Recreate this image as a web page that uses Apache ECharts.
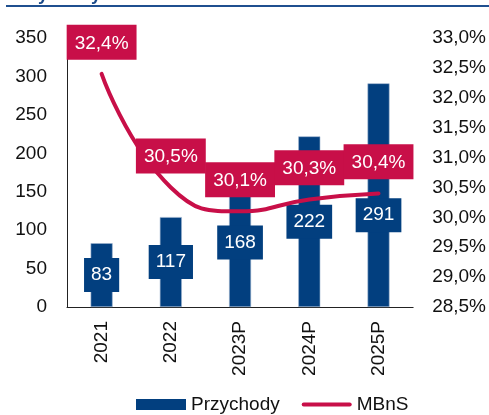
<!DOCTYPE html>
<html>
<head>
    <meta charset="UTF-8">
    <title>Przychody i MBnS</title>
    <style>
        html, body { margin: 0; padding: 0; background: #fff; }
        #chart { width: 489px; height: 415px; }
    </style>
    <script src="https://cdn.jsdelivr.net/npm/echarts@6/dist/echarts.min.js"></script>
</head>
<body>
<div id="chart"></div>
<script type="text/javascript">
    // dane
    var years = ['2021', '2022', '2023P', '2024P', '2025P'];
    var przychody = [83, 117, 168, 222, 291];
    var mbns = [32.4, 30.5, 30.1, 30.3, 30.4];

    var blue = '#023f7f';
    var red = '#c80f48';
    var font = 'Liberation Sans, Arial, sans-serif';

    function pct(v) {
        return v.toFixed(1).replace('.', ',') + '%';
    }

    var barData = przychody.map(function (v, i) {
        var item = { value: v };
        // ostatnia etykieta przesunięta w dół, żeby nie nachodziła na linię
        if (i === przychody.length - 1) {
            item.label = { offset: [0, 20] };
        }
        return item;
    });

    var chart = echarts.init(document.getElementById('chart'));

    var option = {
        animation: false,
        textStyle: { fontFamily: font },
        graphic: [
            {
                type: 'text',
                left: 10,
                top: -14,
                style: {
                    text: 'Przychody i MBnS',
                    font: 'bold 18px ' + font,
                    fill: '#1a4a8a'
                }
            },
            {
                type: 'rect',
                shape: { x: 6, y: 5, width: 483, height: 2 },
                style: { fill: '#1f4f8f' }
            }
        ],
        legend: {
            bottom: -4,
            left: 131,
            itemWidth: 50,
            itemHeight: 11,
            itemGap: 22,
            itemStyle: { borderWidth: 0 },
            textStyle: { fontSize: 19, color: '#111', fontFamily: font },
            data: [
                { name: 'Przychody', icon: 'rect' },
                { name: 'MBnS', icon: 'path://M2,0 L48,0 A2,2 0 0 1 48,4 L2,4 A2,2 0 0 1 2,0 Z' }
            ]
        },
        grid: {
            left: 67,
            right: 67,
            top: 38,
            bottom: 108
        },
        xAxis: {
            type: 'category',
            data: years,
            axisLine: { lineStyle: { color: '#222', width: 1 } },
            axisTick: { show: false },
            axisLabel: {
                rotate: 90,
                margin: 14,
                fontSize: 19,
                color: '#111'
            }
        },
        yAxis: [
            {
                type: 'value',
                min: 0,
                max: 350,
                interval: 50,
                axisLine: { show: true, lineStyle: { color: '#222', width: 1 } },
                axisTick: { show: false },
                splitLine: { show: false },
                axisLabel: { fontSize: 19, color: '#111', margin: 20 }
            },
            {
                type: 'value',
                min: 28.5,
                max: 33,
                interval: 0.5,
                axisLine: { show: false },
                axisTick: { show: false },
                splitLine: { show: false },
                axisLabel: {
                    fontSize: 19,
                    color: '#111',
                    margin: 19,
                    formatter: function (v) { return pct(v); }
                }
            }
        ],
        series: [
            {
                name: 'Przychody',
                type: 'bar',
                yAxisIndex: 0,
                barWidth: 22,
                itemStyle: {
                    color: blue,
                    borderColor: '#9db4cf',
                    borderWidth: 0.6
                },
                label: {
                    show: true,
                    position: 'inside',
                    backgroundColor: blue,
                    color: '#fff',
                    fontSize: 19,
                    padding: [8, 7, 7, 7],
                    fontFamily: font
                },
                data: barData,
                z: 2
            },
            {
                name: 'MBnS',
                type: 'line',
                yAxisIndex: 1,
                smooth: 0.5,
                symbol: 'circle',
                symbolSize: 0.1,
                showSymbol: true,
                lineStyle: { color: red, width: 4, cap: 'round' },
                itemStyle: { color: red },
                label: {
                    show: true,
                    position: 'top',
                    distance: 14,
                    backgroundColor: red,
                    color: '#fff',
                    fontSize: 19,
                    padding: [9, 8, 7, 8],
                    fontFamily: font,
                    formatter: function (p) { return pct(p.value); }
                },
                data: mbns,
                z: 3
            }
        ]
    };

    chart.setOption(option);
</script>
</body>
</html>
